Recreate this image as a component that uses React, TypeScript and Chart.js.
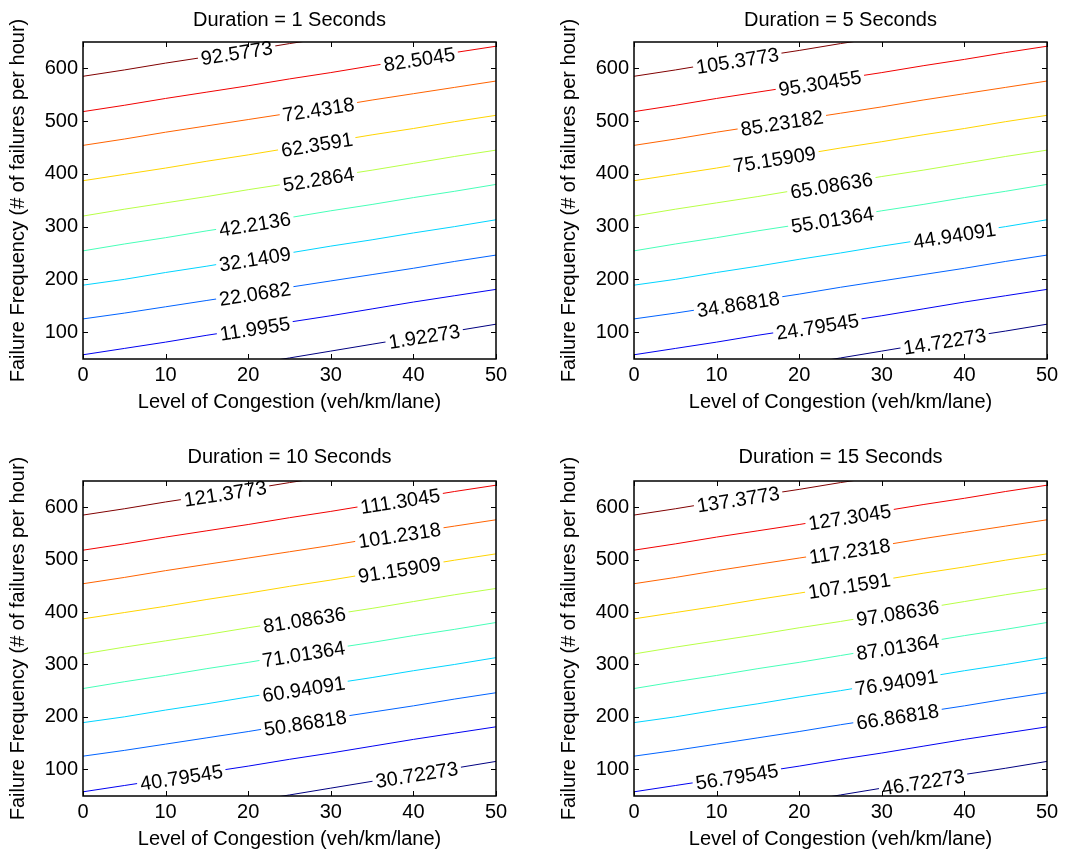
import React, { useEffect, useRef } from "react";
import { Chart, registerables } from "chart.js";

Chart.register(...registerables);

// ---------- data ----------
const CONGESTION = [0, 5, 10, 15, 20, 25, 30, 35, 40, 45, 50];

// Failure frequency of each contour line at the congestion values above
const LINE_0 = [-11, 2, 13, 26, 38, 51, 64, 77, 90, 102, 115];
const LINE_1 = [57, 69, 81, 94, 106, 119, 131, 144, 157, 169, 181];
const LINE_2 = [125, 136, 148, 160, 172, 185, 197, 209, 221, 234, 246];
const LINE_3 = [189, 200, 213, 225, 238, 250, 263, 275, 288, 300, 313];
const LINE_4 = [254, 267, 279, 292, 304, 317, 330, 342, 355, 367, 380];
const LINE_5 = [320, 333, 345, 357, 370, 382, 395, 407, 420, 433, 445];
const LINE_6 = [387, 399, 411, 424, 436, 449, 461, 474, 486, 499, 511];
const LINE_7 = [454, 466, 479, 491, 503, 515, 527, 540, 552, 564, 576];
const LINE_8 = [518, 530, 543, 555, 567, 580, 592, 605, 617, 630, 642];
const LINE_9 = [585, 597, 610, 622, 634, 647, 659, 672, 684, 696, 709];
const CONTOUR_LINES = [LINE_0, LINE_1, LINE_2, LINE_3, LINE_4, LINE_5, LINE_6, LINE_7, LINE_8, LINE_9];

const DURATIONS = [1, 5, 10, 15];

const LEVELS_1S = ["1.92273", "11.9955", "22.0682", "32.1409", "42.2136", "52.2864", "62.3591", "72.4318", "82.5045", "92.5773"];
const LEVELS_5S = ["14.72273", "24.79545", "34.86818", "44.94091", "55.01364", "65.08636", "75.15909", "85.23182", "95.30455", "105.3773"];
const LEVELS_10S = ["30.72273", "40.79545", "50.86818", "60.94091", "71.01364", "81.08636", "91.15909", "101.2318", "111.3045", "121.3773"];
const LEVELS_15S = ["46.72273", "56.79545", "66.86818", "76.94091", "87.01364", "97.08636", "107.1591", "117.2318", "127.3045", "137.3773"];
const LEVEL_LABELS = [LEVELS_1S, LEVELS_5S, LEVELS_10S, LEVELS_15S];

// congestion value where each contour label sits
const LABEL_AT_1S = [41.3, 20.8, 20.8, 20.8, 20.8, 28.5, 28.3, 28.5, 40.7, 18.6];
const LABEL_AT_5S = [37.6, 22.2, 12.6, 38.8, 24.0, 23.9, 17.0, 17.9, 22.5, 12.5];
const LABEL_AT_10S = [40.4, 11.9, 26.9, 26.7, 26.7, 26.8, 38.3, 38.3, 38.4, 17.2];
const LABEL_AT_15S = [35.0, 12.45, 31.9, 31.75, 31.9, 31.9, 26.05, 26.1, 26.1, 12.6];
const LABEL_POSITIONS = [LABEL_AT_1S, LABEL_AT_5S, LABEL_AT_10S, LABEL_AT_15S];

const X_TICKS = [0, 10, 20, 30, 40, 50];
const Y_TICKS = [100, 200, 300, 400, 500, 600];
const X_RANGE = [0, 50];
const Y_RANGE = [49, 650];

// ---------- style ----------
const JET_COLORS = ["#000080", "#0000F1", "#0063FF", "#00D4FF", "#47FFB8", "#B8FF47", "#FFD400", "#FF6300", "#F10000", "#800000"];
const FONT = "'Liberation Sans', Arial, sans-serif";
const FONT_SIZE = 20;

const PANELS = [
  { left: 0, top: 0, width: 533, height: 427, padding: { top: 42, left: 0, right: 37, bottom: 13 }, titleGap: 16 },
  { left: 551, top: 0, width: 516, height: 427, padding: { top: 42, left: 0, right: 20, bottom: 13 }, titleGap: 16 },
  { left: 0, top: 439, width: 533, height: 415, padding: { top: 42, left: 0, right: 37, bottom: 3 }, titleGap: 18 },
  { left: 551, top: 439, width: 516, height: 415, padding: { top: 42, left: 0, right: 20, bottom: 3 }, titleGap: 18 },
];

function interp(xs: number[], ys: number[], x: number): number {
  for (let j = 0; j < xs.length - 1; j++) {
    if (x >= xs[j] && x <= xs[j + 1]) {
      const t = (x - xs[j]) / (xs[j + 1] - xs[j]);
      return ys[j] + t * (ys[j + 1] - ys[j]);
    }
  }
  return ys[ys.length - 1];
}

function ContourPanel({ index }: { index: number }) {
  const ref = useRef<HTMLCanvasElement | null>(null);
  const cfg = PANELS[index];

  useEffect(() => {
    if (!ref.current) return;
    const labels = LEVEL_LABELS[index];
    const labelAt = LABEL_POSITIONS[index];

    const decor = {
      id: "contourDecor",
      afterDatasetsDraw(chart: any) {
        const { ctx, chartArea } = chart;
        const xs = chart.scales.x;
        const ys = chart.scales.y;
        ctx.save();
        ctx.font = `${FONT_SIZE}px ${FONT}`;
        CONTOUR_LINES.forEach((line, i) => {
          const lx = labelAt[i];
          const ly = interp(CONGESTION, line, lx);
          const px = xs.getPixelForValue(lx);
          const py = ys.getPixelForValue(ly);
          const ax = xs.getPixelForValue(CONGESTION[0]);
          const ay = ys.getPixelForValue(line[0]);
          const bx = xs.getPixelForValue(CONGESTION[CONGESTION.length - 1]);
          const by = ys.getPixelForValue(line[line.length - 1]);
          const ang = Math.atan2(by - ay, bx - ax);
          const text = labels[i];
          const w = ctx.measureText(text).width;
          // gap in the contour line
          ctx.save();
          ctx.beginPath();
          ctx.rect(chartArea.left, chartArea.top, chartArea.right - chartArea.left, chartArea.bottom - chartArea.top);
          ctx.clip();
          ctx.translate(px, py);
          ctx.rotate(ang);
          ctx.fillStyle = "#ffffff";
          ctx.fillRect(-w / 2 - 3, -6, w + 6, 12);
          ctx.restore();
          // label text
          ctx.save();
          ctx.translate(px, py);
          ctx.rotate(ang);
          ctx.fillStyle = "#000000";
          ctx.textAlign = "center";
          ctx.textBaseline = "middle";
          ctx.fillText(text, 0, 2);
          ctx.restore();
        });
        ctx.restore();
      },
      afterDraw(chart: any) {
        const { ctx, chartArea } = chart;
        const xs = chart.scales.x;
        const ys = chart.scales.y;
        const { left, right, top, bottom } = chartArea;
        ctx.save();
        // title
        ctx.font = `${FONT_SIZE}px ${FONT}`;
        ctx.fillStyle = "#000";
        ctx.textAlign = "center";
        ctx.textBaseline = "alphabetic";
        ctx.fillText(`Duration = ${DURATIONS[index]} Seconds`, (left + right) / 2, top - cfg.titleGap);
        // ticks (inward, all four sides)
        ctx.strokeStyle = "#000";
        ctx.lineWidth = 1;
        ctx.beginPath();
        X_TICKS.forEach((v) => {
          const p = Math.round(xs.getPixelForValue(v)) + 0.5;
          ctx.moveTo(p, bottom);
          ctx.lineTo(p, bottom - 5);
          ctx.moveTo(p, top);
          ctx.lineTo(p, top + 5);
        });
        Y_TICKS.forEach((v) => {
          const p = Math.round(ys.getPixelForValue(v)) + 0.5;
          ctx.moveTo(left, p);
          ctx.lineTo(left + 5, p);
          ctx.moveTo(right, p);
          ctx.lineTo(right - 5, p);
        });
        ctx.stroke();
        // box
        ctx.lineWidth = 1.5;
        ctx.strokeRect(left, top, right - left, bottom - top);
        ctx.restore();
      },
    };

    const chart = new Chart(ref.current, {
      type: "line",
      data: {
        datasets: CONTOUR_LINES.map((line, i) => ({
          label: labels[i],
          data: CONGESTION.map((x, j) => ({ x, y: line[j] })),
          borderColor: JET_COLORS[i],
          backgroundColor: JET_COLORS[i],
          borderWidth: 1,
          pointRadius: 0,
          tension: 0,
          fill: false,
        })),
      },
      options: {
        animation: false,
        responsive: false,
        devicePixelRatio: 1,
        events: [],
        layout: { padding: cfg.padding },
        plugins: {
          legend: { display: false },
          tooltip: { enabled: false },
          title: { display: false },
        },
        scales: {
          x: {
            type: "linear",
            min: X_RANGE[0],
            max: X_RANGE[1],
            afterBuildTicks: (s: any) => {
              s.ticks = X_TICKS.map((v) => ({ value: v }));
            },
            afterFit: (s: any) => {
              s.height = 55;
            },
            grid: { display: false, drawTicks: false },
            border: { display: false },
            ticks: {
              padding: 4,
              color: "#000",
              maxRotation: 0,
              autoSkip: false,
              font: { family: FONT, size: FONT_SIZE },
            },
            title: {
              display: true,
              text: "Level of Congestion (veh/km/lane)",
              color: "#000",
              padding: { top: 0, bottom: 0 },
              font: { family: FONT, size: FONT_SIZE },
            },
          },
          y: {
            type: "linear",
            min: Y_RANGE[0],
            max: Y_RANGE[1],
            afterBuildTicks: (s: any) => {
              s.ticks = Y_TICKS.map((v) => ({ value: v }));
            },
            afterFit: (s: any) => {
              s.width = 83;
            },
            grid: { display: false, drawTicks: false },
            border: { display: false },
            ticks: {
              padding: 5,
              color: "#000",
              autoSkip: false,
              font: { family: FONT, size: FONT_SIZE },
            },
            title: {
              display: true,
              text: "Failure Frequency (# of failures per hour)",
              color: "#000",
              padding: { top: 6, bottom: 0 },
              font: { family: FONT, size: FONT_SIZE },
            },
          },
        },
      },
      plugins: [decor],
    } as any);
    return () => chart.destroy();
  }, [index]);

  return (
    <div style={{ position: "absolute", left: cfg.left, top: cfg.top, width: cfg.width, height: cfg.height }}>
      <canvas ref={ref} width={cfg.width} height={cfg.height} style={{ display: "block" }} />
    </div>
  );
}

export default function App() {
  return (
    <div style={{ position: "absolute", left: 0, top: 0, width: 1067, height: 854, background: "#fff" }}>
      {DURATIONS.map((_, i) => (
        <ContourPanel key={i} index={i} />
      ))}
    </div>
  );
}
